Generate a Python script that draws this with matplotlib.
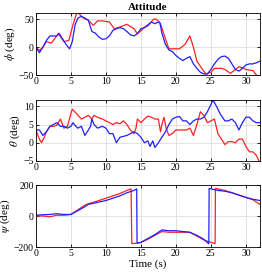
import numpy as np
import matplotlib
matplotlib.use("Agg")
import matplotlib.pyplot as plt

plt.rcParams['font.family'] = ['Liberation Serif', 'DejaVu Serif']
plt.rcParams['mathtext.fontset'] = 'stix'

# roll (deg)
t_phi_ref = [0, 0.5, 1, 1.5, 2.2, 3.2, 4, 4.7, 5.3, 5.8, 6.0, 6.8, 7.5, 8.2, 8.8, 9.5, 10.5, 11.2, 12,
             13, 14, 14.5, 15.5, 16, 16.8, 17.2, 17.8, 18.5, 19, 19.5, 20.5, 21.3, 22, 22.5, 23, 23.8,
             24.3, 25, 25.5, 26.5, 27, 27.8, 28.5, 29, 29.5, 30, 31, 31.5, 32]
phi_ref = [0, -6, 0, 10, 7, 24, 10, 12, 40, 60, 62, 52, 48, 39, 47, 47, 45, 33, 36,
           41, 33, 24, 35, 38, 50, 50, 42, 15, -3, -3, -3, 5, 20, 0, -25, -40,
           -48, -45, -38, -38, -40, -47, -40, -35, -37, -40, -42, -50, -52]
t_phi = [0, 0.5, 1, 1.5, 2, 2.5, 3, 3.3, 3.8, 4.3, 4.8, 5.2, 5.6, 6, 6.5, 7, 7.5, 8, 8.5, 9, 9.5, 10,
         10.5, 11, 11.5, 12, 12.5, 13, 13.5, 14, 14.5, 15, 15.5, 16, 16.5, 17, 17.5, 17.7, 18, 18.5,
         19, 19.5, 20, 20.5, 21, 21.5, 22, 22.5, 23, 23.5, 24, 24.5, 25, 25.5, 26, 26.5, 27, 27.5,
         28, 28.5, 29, 29.5, 30, 30.5, 31, 31.5, 32]
phi = [0, -10, 0, 12, 20, 20, 20, 25, 15, 5, -3, 10, 40, 52, 55, 52, 48, 28, 25, 18, 14, 15,
       20, 30, 33, 35, 33, 28, 22, 20, 24, 33, 35, 40, 45, 42, 45, 44, 25, 5,
       -5, -8, -15, -20, -24, -20, -17, -30, -38, -45, -48, -48, -40, -30, -22, -17, -16, -20,
       -30, -40, -43, -38, -32, -30, -30, -28, -25]

# pitch (deg)
t_th_ref = [0, 0.5, 0.8, 1.2, 1.5, 2, 2.5, 3, 3.5, 4, 4.5, 5, 5.2, 5.8, 6.5, 7, 7.5, 8, 8.3, 8.8,
            9.5, 10, 10.5, 11, 11.5, 12, 12.5, 13, 13.5, 14, 14.3, 14.5, 15, 15.5, 16, 16.5, 17,
            17.5, 17.8, 18, 18.3, 18.6, 19, 19.5, 20, 20.5, 21, 21.5, 22, 22.5, 23, 23.5, 24, 24.5,
            25, 25.5, 26, 26.5, 27, 27.5, 28, 28.5, 29, 29.5, 30, 30.5, 31, 31.5, 32]
theta_ref = [3.5, 1, 0, 1.5, 3, 4.5, 4.5, 4.8, 6.5, 4, 4.5, 8, 9.2, 8, 6.5, 7, 7.5, 6.5, 7.5, 7,
             6.5, 6, 5.5, 5, 5.5, 5.2, 6, 5, 3.5, 2.5, 4, 6.5, 5.5, 6.5, 7.3, 7, 6.5,
             6.5, 3, 5, 7, 4, 2, 2.5, 3.5, 3.5, 3.5, 3.5, 4, 2, 5, 8.5, 7.5, 5.5,
             6, 6.5, 2.5, 1, -0.5, 0.3, 0.3, 0, 1, 1, -1, -2.5, -2.5, -3.5, -5.5]
t_th = [0, 0.5, 1, 1.5, 2, 2.5, 3, 3.5, 4, 4.5, 5, 5.3, 5.7, 6, 6.5, 7, 7.5, 7.8, 8, 8.3, 8.8,
        9.5, 10, 10.5, 11, 11.5, 12, 13, 14, 14.5, 15, 15.5, 16, 16.3, 16.7, 17, 17.5, 18, 18.5,
        19, 19.5, 20, 20.5, 21, 21.5, 22, 22.5, 23, 23.5, 24, 24.5, 25, 25.3, 25.8, 26.3, 27,
        27.5, 28, 28.5, 29, 29.5, 30, 30.5, 31, 31.5, 32]
theta = [3.5, 3.5, 2, 3, 4.5, 5, 5.5, 4.5, 4.5, 4, 4.5, 5.5, 4.5, 4, 4.5, 2, 3.5, 4.5, 6.5, 5, 4,
         4.5, 4, 2.5, 2.5, 0, 1.5, 2, 3, 2.5, 1.5, 0, 0.5, -1, 0.5, -1.3, 0, 1.5, 3,
         5, 6.5, 7, 7.2, 6, 6, 5, 6, 6.5, 6.5, 7, 8.5, 10.5, 11.7, 10, 8, 6,
         6, 6.5, 5.5, 3.5, 5.5, 7, 7, 6, 5.5, 5.5]

# yaw (deg)
t_psi_ref = [0, 1, 2, 3, 4, 5, 6, 7, 7.5, 8, 9, 10, 11, 12, 13, 13.6, 13.7, 14.5, 15, 16, 17, 18,
             19, 20, 21, 22, 23, 24, 25, 25.6, 25.65, 26, 27, 28, 29, 30, 31, 32]
psi_ref = [0, 0, -5, 5, 5, 10, 40, 70, 80, 85, 100, 115, 130, 145, 165, 175, -178, -175, -170, -150,
           -125, -100, -105, -105, -105, -105, -130, -155, -170, -178, 178, 175, 165, 150, 135, 120, 105, 75]
t_psi = [0, 1, 2, 3, 3.5, 4, 5, 6, 7, 7.5, 8, 9, 10, 11, 12, 13, 14, 14.4, 14.45, 15, 16, 17, 18,
         19, 20, 21, 22, 23, 24, 24.7, 24.75, 25.5, 26, 27, 28, 29, 30, 31, 32]
psi = [5, 8, 10, 15, 12, 10, 10, 35, 60, 75, 80, 90, 100, 115, 130, 150, 165, 175, -175, -170, -145,
       -120, -90, -95, -95, -100, -105, -125, -150, -180, 178, 170, 165, 160, 150, 135, 120, 108, 100]

fig = plt.figure(figsize=(2.62, 2.78), dpi=100)
boxes = [[0.137, 0.730, 0.855, 0.223],
         [0.137, 0.421, 0.855, 0.219],
         [0.137, 0.1115, 0.855, 0.223]]
axs = [fig.add_axes(b) for b in boxes]

axs[0].plot(t_phi_ref, phi_ref, color='#ff2020', lw=0.9)
axs[0].plot(t_phi, phi, color='#2020ff', lw=0.9)
axs[1].plot(t_th_ref, theta_ref, color='#ff2020', lw=0.9)
axs[1].plot(t_th, theta, color='#2020ff', lw=0.9)
axs[2].plot(t_psi_ref, psi_ref, color='#ff2020', lw=0.9)
axs[2].plot(t_psi, psi, color='#2020ff', lw=0.9)

axs[0].set_ylim(-50, 61)
axs[0].set_yticks([-50, 0, 50])
axs[1].set_ylim(-5, 11.7)
axs[1].set_yticks([-5, 0, 5, 10])
axs[2].set_ylim(-200, 200)
axs[2].set_yticks([-200, 0, 200])

labels = [r'$\phi$ (deg)', r'$\theta$ (deg)', r'$\psi$ (deg)']
for ax, lab in zip(axs, labels):
    ax.set_xlim(0, 32)
    ax.set_xticks([0, 5, 10, 15, 20, 25, 30])
    ax.grid(True, color='#dddddd', lw=0.6)
    ax.set_axisbelow(True)
    ax.tick_params(direction='in', top=True, right=True, labelsize=7, length=2, pad=1.5, width=0.6)
    ax.set_ylabel(lab, fontsize=8, labelpad=1)
    for s in ax.spines.values():
        s.set_linewidth(0.6)

axs[0].set_title('Attitude', fontsize=8, fontweight='bold', pad=2)
axs[2].set_xlabel('Time (s)', fontsize=8, labelpad=1)

fig.savefig('out.png', dpi=100)
